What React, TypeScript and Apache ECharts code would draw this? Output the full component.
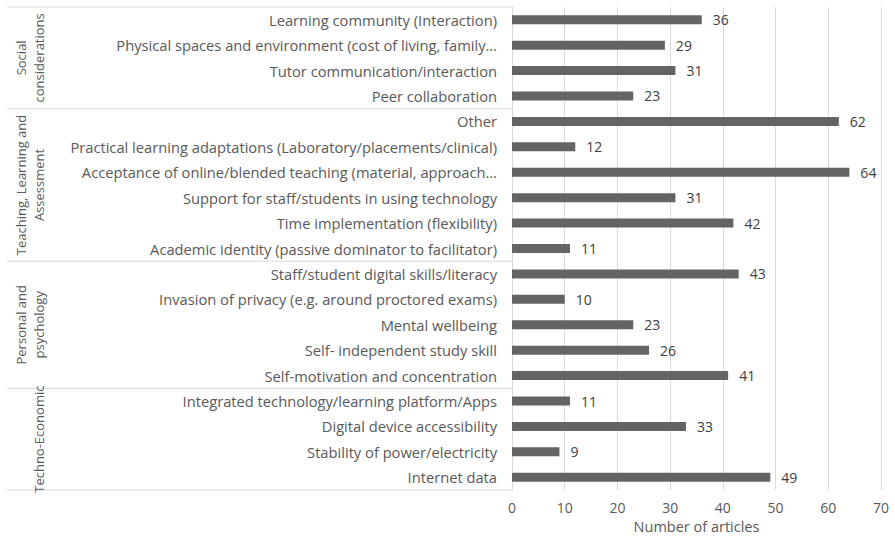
import React, { useEffect, useRef } from "react";
import * as echarts from "echarts";

const categories: string[] = [
  "Learning community (Interaction)",
  "Physical spaces and environment (cost of living, family…",
  "Tutor communication/interaction",
  "Peer collaboration",
  "Other",
  "Practical learning adaptations (Laboratory/placements/clinical)",
  "Acceptance of online/blended teaching (material, approach…",
  "Support for staff/students in using technology",
  "Time implementation (flexibility)",
  "Academic identity (passive dominator to facilitator)",
  "Staff/student digital skills/literacy",
  "Invasion of privacy (e.g. around proctored exams)",
  "Mental wellbeing",
  "Self- independent study skill",
  "Self-motivation and concentration",
  "Integrated technology/learning platform/Apps",
  "Digital device accessibility",
  "Stability of power/electricity",
  "Internet data",
];

const values: number[] = [36, 29, 31, 23, 62, 12, 64, 31, 42, 11, 43, 10, 23, 26, 41, 11, 33, 9, 49];

const groupNames: string[] = [
  "Social\nconsiderations",
  "Teaching, Learning and\nAssessment",
  "Personal and\npsychology",
  "Techno-Economic",
];
const groupSizes: number[] = [4, 6, 5, 4];

const xTicks = { min: 0, max: 70, interval: 10 };

export default function App() {
  const ref = useRef<HTMLDivElement>(null);
  useEffect(() => {
    document.body.style.margin = "0";
    const chart = echarts.init(ref.current!, null, { renderer: "svg" });
    chart.setOption({
      animation: false,
      backgroundColor: "#ffffff",
      grid: { left: 512, right: 14, top: 7, bottom: 49, containLabel: false },
      xAxis: {
        type: "value",
        min: xTicks.min,
        max: xTicks.max,
        interval: xTicks.interval,
        axisLine: { show: false },
        axisTick: { show: false },
        splitLine: { show: true, lineStyle: { color: "#d9d9d9", width: 1 } },
        axisLabel: { color: "#595959", fontSize: 14, fontFamily: "Open Sans", margin: 10 },
        name: "Number of articles",
        nameLocation: "middle",
        nameGap: 29,
        nameTextStyle: { color: "#595959", fontSize: 14.5, fontFamily: "Open Sans" },
      },
      yAxis: {
        type: "category",
        data: categories,
        inverse: true,
        axisLine: { show: true, lineStyle: { color: "#d9d9d9", width: 1 } },
        axisTick: { show: false },
        splitLine: { show: false },
        axisLabel: { color: "#595959", fontSize: 14.7, fontFamily: "Open Sans", margin: 15 },
      },
      series: [
        {
          type: "bar",
          data: values,
          barWidth: 9,
          itemStyle: { color: "#646464" },
          label: {
            show: true,
            position: "right",
            distance: 11,
            color: "#404040",
            fontSize: 14,
            fontFamily: "Open Sans",
          },
        },
      ],
    });

    const y0 = chart.convertToPixel({ yAxisIndex: 0 }, categories[0]) as number;
    const y1 = chart.convertToPixel({ yAxisIndex: 0 }, categories[1]) as number;
    const band = y1 - y0;
    const top = y0 - band / 2;
    const axisX = chart.convertToPixel({ xAxisIndex: 0 }, 0) as number;
    const leftX = 7;
    const graphic: any[] = [];
    let acc = 0;
    graphic.push({
      type: "line",
      shape: { x1: leftX, y1: top, x2: axisX, y2: top },
      style: { stroke: "#d9d9d9", lineWidth: 1 },
      silent: true,
    });
    groupSizes.forEach((n, gi) => {
      const start = top + acc * band;
      acc += n;
      const end = top + acc * band;
      graphic.push({
        type: "line",
        shape: { x1: leftX, y1: end, x2: axisX, y2: end },
        style: { stroke: "#d9d9d9", lineWidth: 1 },
        silent: true,
      });
      graphic.push({
        type: "text",
        x: 48,
        y: (start + end) / 2,
        rotation: Math.PI / 2,
        style: {
          text: groupNames[gi],
          fill: "#595959",
          fontSize: 13,
          fontFamily: "'Liberation Sans Narrow', 'Open Sans'",
          align: "center",
          verticalAlign: "bottom",
          lineHeight: 18,
        },
        silent: true,
      });
    });
    chart.setOption({ graphic });
    return () => chart.dispose();
  }, []);
  return <div ref={ref} style={{ width: 895, height: 539 }} />;
}
